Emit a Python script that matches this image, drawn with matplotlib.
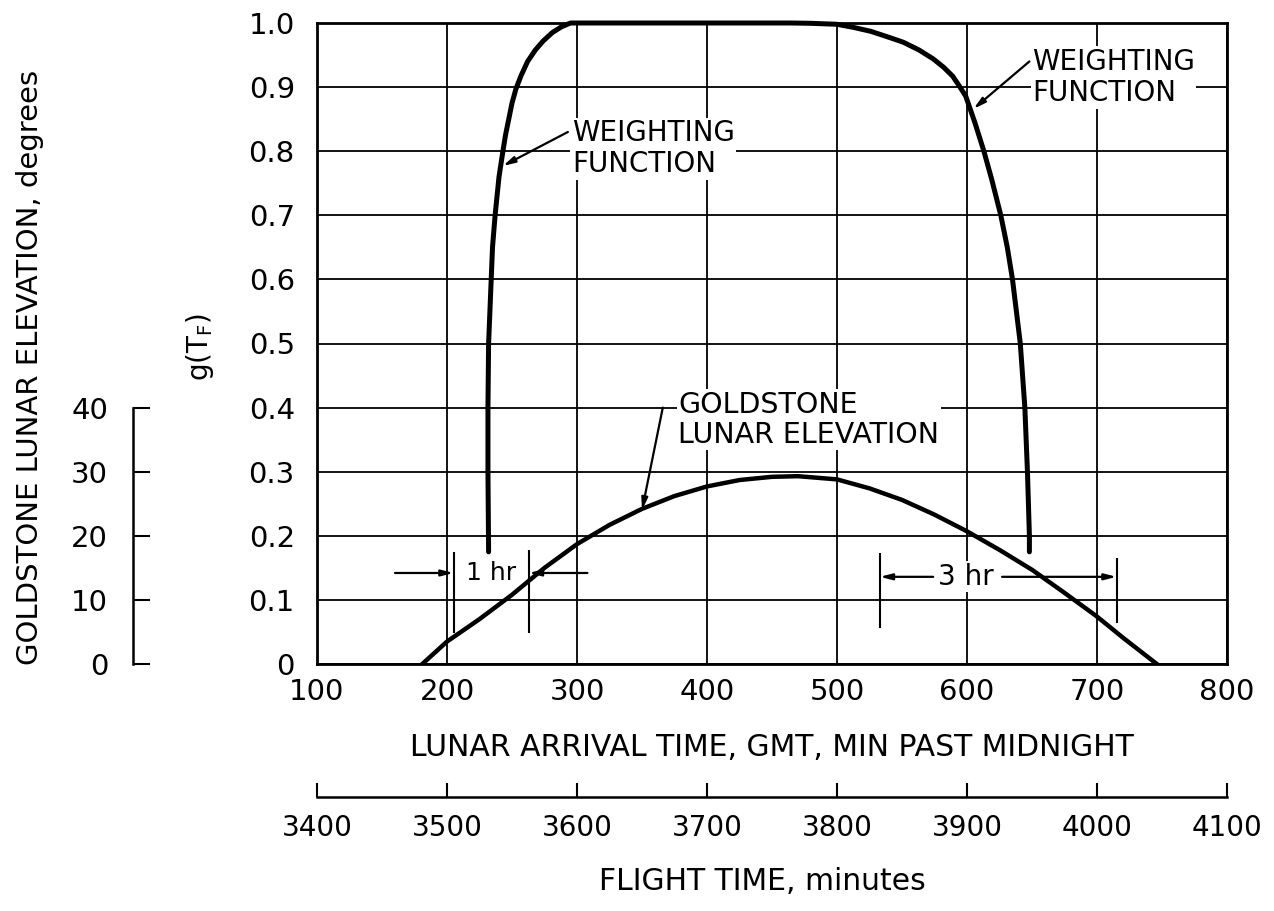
import numpy as np
import matplotlib
matplotlib.use("Agg")
import matplotlib.pyplot as plt

plt.rcParams["font.family"] = "DejaVu Sans"

# weighting function g(T_F) vs lunar arrival time (min past midnight GMT)
wf_time = [232, 231.5, 231.5, 232, 233, 234, 235, 237, 238, 240, 243, 245, 247, 250, 253,
           257, 262, 268, 274, 281, 288, 295,
           465, 480, 500, 513, 526, 538, 551, 563, 574, 582, 589, 594, 599, 606, 613,
           619, 626, 631, 635, 638, 641, 644.5, 646.5, 648, 648]
wf_g = [0.175, 0.30, 0.40, 0.50, 0.55, 0.60, 0.65, 0.70, 0.72, 0.76, 0.80, 0.825, 0.845,
        0.875, 0.897, 0.918, 0.94, 0.958, 0.972, 0.985, 0.994, 1.0,
        1.0, 0.9995, 0.998, 0.993, 0.987, 0.979, 0.970, 0.958, 0.944, 0.931, 0.917, 0.902,
        0.886, 0.845, 0.80, 0.756, 0.70, 0.65, 0.60, 0.55, 0.50, 0.40, 0.30, 0.20, 0.175]

# Goldstone lunar elevation, degrees
el_time = [181, 200, 225, 250, 275, 300, 325, 350, 375, 400, 425, 450, 470, 500, 525,
           550, 575, 600, 625, 650, 675, 700, 720, 746]
el_deg = [0, 3.5, 7.0, 10.8, 15.0, 18.7, 21.7, 24.2, 26.2, 27.7, 28.7, 29.2, 29.3, 28.8,
          27.4, 25.6, 23.3, 20.7, 17.8, 14.7, 11.1, 7.4, 4.1, 0]

one_hr_marks = [205, 263]
three_hr_marks = [533, 715]

x_ticks = [100, 200, 300, 400, 500, 600, 700, 800]
y_ticks = [0, 0.1, 0.2, 0.3, 0.4, 0.5, 0.6, 0.7, 0.8, 0.9, 1.0]
y_tick_labels = ["0", "0.1", "0.2", "0.3", "0.4", "0.5", "0.6", "0.7", "0.8", "0.9", "1.0"]
el_ticks = [0, 10, 20, 30, 40]
ft_ticks = [3400, 3500, 3600, 3700, 3800, 3900, 4000, 4100]

fs = 20
W, H = 1274, 911
fig = plt.figure(figsize=(W / 100, H / 100), dpi=100)

x0, x1, y0, y1 = 317, 1227, 664, 23
ax = fig.add_axes([x0 / W, 1 - y0 / H, (x1 - x0) / W, (y0 - y1) / H])
ax.set_xlim(100, 800)
ax.set_ylim(0, 1.0)
ax.set_xticks(x_ticks)
ax.set_yticks(y_ticks)
ax.set_yticklabels(y_tick_labels)
ax.tick_params(length=0, labelsize=21)
ax.tick_params(axis="x", pad=10)
ax.tick_params(axis="y", pad=16)
ax.grid(True, color="black", lw=1.3)
for s in ax.spines.values():
    s.set_linewidth(2.0)

ax.plot(wf_time, wf_g, color="black", lw=3.6, solid_joinstyle="round",
        solid_capstyle="round", clip_on=False, zorder=4)
ax.plot(el_time, np.array(el_deg) / 100.0, color="black", lw=3.2,
        solid_joinstyle="round", zorder=4)

box = dict(fc="white", ec="none", pad=1)
arr = dict(arrowstyle="-|>,head_length=0.7,head_width=0.18", color="black", lw=1.6,
           shrinkA=0, shrinkB=0)

ax.text(296, 0.804, "WEIGHTING\nFUNCTION", fontsize=fs, ha="left", va="center",
        linespacing=1.15, bbox=box, zorder=5)
ax.annotate("", xy=(243, 0.777), xytext=(293, 0.83), arrowprops=arr, zorder=5)

ax.text(650, 0.915, "WEIGHTING\nFUNCTION", fontsize=fs, ha="left", va="center",
        linespacing=1.15, bbox=box, zorder=5)
ax.annotate("", xy=(605, 0.866), xytext=(648, 0.94), arrowprops=arr, zorder=5)

ax.text(378, 0.381, "GOLDSTONE\nLUNAR ELEVATION", fontsize=20.5, ha="left", va="center",
        linespacing=1.1, bbox=box, zorder=5)
ax.annotate("", xy=(350, 0.24), xytext=(366, 0.40), arrowprops=arr, zorder=5)

# 1 hr span
ax.vlines(one_hr_marks[0], 0.048, 0.175, color="black", lw=1.5, zorder=5)
ax.vlines(one_hr_marks[1], 0.048, 0.178, color="black", lw=1.5, zorder=5)
ax.annotate("", xy=(one_hr_marks[0], 0.142), xytext=(160, 0.142), arrowprops=arr, zorder=5)
ax.annotate("", xy=(one_hr_marks[1], 0.142), xytext=(308, 0.142), arrowprops=arr, zorder=5)
ax.text(np.mean(one_hr_marks), 0.142, "1 hr", fontsize=18, ha="center", va="center",
        bbox=box, zorder=5)

# 3 hr span
ax.vlines(three_hr_marks[0], 0.056, 0.173, color="black", lw=1.5, zorder=5)
ax.vlines(three_hr_marks[1], 0.064, 0.166, color="black", lw=1.5, zorder=5)
ax.annotate("", xy=(three_hr_marks[0], 0.136), xytext=(574, 0.136), arrowprops=arr, zorder=5)
ax.annotate("", xy=(three_hr_marks[1], 0.136), xytext=(627, 0.136), arrowprops=arr, zorder=5)
ax.text(599, 0.136, "3 hr", fontsize=fs, ha="center", va="center", bbox=box, zorder=5)

# left elevation scale (40 deg <-> 0.4)
ax_el = fig.add_axes([133 / W, 1 - y0 / H, 0.001, (y0 - y1) / H])
ax_el.set_ylim(0, 100)
ax_el.patch.set_visible(False)
for k in ["top", "right", "bottom"]:
    ax_el.spines[k].set_visible(False)
ax_el.spines["left"].set_bounds(0, 40)
ax_el.spines["left"].set_linewidth(1.8)
ax_el.set_xticks([])
ax_el.set_yticks(el_ticks)
ax_el.tick_params(axis="y", direction="in", length=12, width=1.5, pad=18, labelsize=21)

# flight time scale
ax_ft = fig.add_axes([x0 / W, 1 - 797 / H, (x1 - x0) / W, 0.0001])
ax_ft.set_xlim(3400, 4100)
ax_ft.patch.set_visible(False)
for k in ["top", "right", "left"]:
    ax_ft.spines[k].set_visible(False)
ax_ft.spines["bottom"].set_linewidth(1.8)
ax_ft.set_yticks([])
ax_ft.set_xticks(ft_ticks)
ax_ft.tick_params(axis="x", direction="in", length=10, width=1.5, pad=12, labelsize=fs)

fig.text(772 / W, 1 - 748 / H, "LUNAR ARRIVAL TIME, GMT, MIN PAST MIDNIGHT",
         fontsize=21.5, ha="center", va="center")
fig.text(762 / W, 1 - 882 / H, "FLIGHT TIME, minutes", fontsize=21.5, ha="center", va="center")
fig.text(30 / W, 1 - 367 / H, "GOLDSTONE LUNAR ELEVATION, degrees", fontsize=21,
         rotation=90, ha="center", va="center")
fig.text(200 / W, 1 - 347 / H, r"g(T$_\mathregular{F}$)", fontsize=fs,
         rotation=90, ha="center", va="center")

fig.savefig("out.png", dpi=100)
